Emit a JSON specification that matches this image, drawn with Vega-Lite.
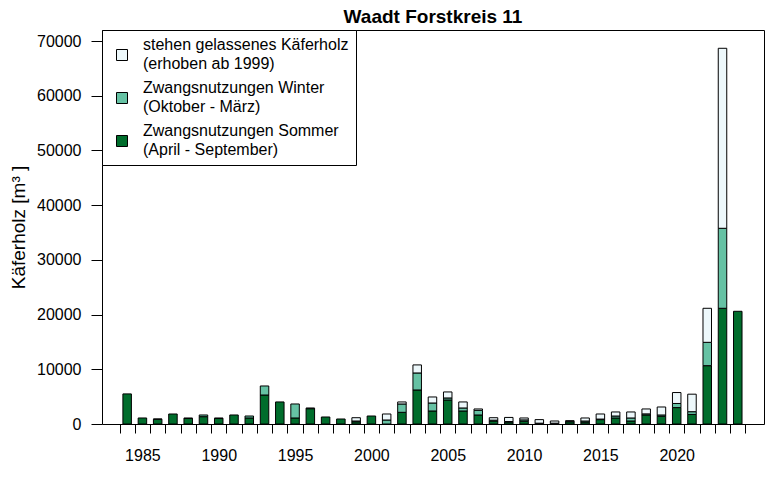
{
  "$schema": "https://vega.github.io/schema/vega-lite/v6.json",
  "width": 662,
  "height": 394,
  "autosize": "none",
  "padding": {"left": 102, "top": 30, "right": 4, "bottom": 60},
  "background": "white",
  "title": {"text": "Waadt Forstkreis 11", "font": "Liberation Sans", "fontSize": 19, "fontWeight": "bold", "color": "black", "anchor": "middle", "offset": 3},
  "config": {"view": {"stroke": "black", "strokeWidth": 1}},
  "data": {"values": [
    {"jahr":1984,"typ":"sommer","k":1,"m3":5500},
    {"jahr":1985,"typ":"sommer","k":1,"m3":1100},
    {"jahr":1986,"typ":"sommer","k":1,"m3":850},{"jahr":1986,"typ":"winter","k":2,"m3":80},
    {"jahr":1987,"typ":"sommer","k":1,"m3":1830},
    {"jahr":1988,"typ":"sommer","k":1,"m3":1000},{"jahr":1988,"typ":"winter","k":2,"m3":100},
    {"jahr":1989,"typ":"sommer","k":1,"m3":1340},{"jahr":1989,"typ":"winter","k":2,"m3":310},
    {"jahr":1990,"typ":"sommer","k":1,"m3":1000},{"jahr":1990,"typ":"winter","k":2,"m3":100},
    {"jahr":1991,"typ":"sommer","k":1,"m3":1650},
    {"jahr":1992,"typ":"sommer","k":1,"m3":1100},{"jahr":1992,"typ":"winter","k":2,"m3":360},
    {"jahr":1993,"typ":"sommer","k":1,"m3":5300},{"jahr":1993,"typ":"winter","k":2,"m3":1650},
    {"jahr":1994,"typ":"sommer","k":1,"m3":4030},
    {"jahr":1995,"typ":"sommer","k":1,"m3":1100},{"jahr":1995,"typ":"winter","k":2,"m3":2560},
    {"jahr":1996,"typ":"sommer","k":1,"m3":2800},{"jahr":1996,"typ":"winter","k":2,"m3":130},
    {"jahr":1997,"typ":"sommer","k":1,"m3":1280},
    {"jahr":1998,"typ":"sommer","k":1,"m3":915},
    {"jahr":1999,"typ":"sommer","k":1,"m3":400},{"jahr":1999,"typ":"winter","k":2,"m3":150},{"jahr":1999,"typ":"stehen","k":3,"m3":600},
    {"jahr":2000,"typ":"sommer","k":1,"m3":1460},
    {"jahr":2001,"typ":"winter","k":2,"m3":730},{"jahr":2001,"typ":"stehen","k":3,"m3":1100},
    {"jahr":2002,"typ":"sommer","k":1,"m3":2135},{"jahr":2002,"typ":"winter","k":2,"m3":1525},{"jahr":2002,"typ":"stehen","k":3,"m3":370},
    {"jahr":2003,"typ":"sommer","k":1,"m3":6220},{"jahr":2003,"typ":"winter","k":2,"m3":3110},{"jahr":2003,"typ":"stehen","k":3,"m3":1470},
    {"jahr":2004,"typ":"sommer","k":1,"m3":2380},{"jahr":2004,"typ":"winter","k":2,"m3":1460},{"jahr":2004,"typ":"stehen","k":3,"m3":1100},
    {"jahr":2005,"typ":"sommer","k":1,"m3":4390},{"jahr":2005,"typ":"winter","k":2,"m3":370},{"jahr":2005,"typ":"stehen","k":3,"m3":1100},
    {"jahr":2006,"typ":"sommer","k":1,"m3":2380},{"jahr":2006,"typ":"winter","k":2,"m3":550},{"jahr":2006,"typ":"stehen","k":3,"m3":1100},
    {"jahr":2007,"typ":"sommer","k":1,"m3":1650},{"jahr":2007,"typ":"winter","k":2,"m3":850},{"jahr":2007,"typ":"stehen","k":3,"m3":250},
    {"jahr":2008,"typ":"sommer","k":1,"m3":550},{"jahr":2008,"typ":"winter","k":2,"m3":150},{"jahr":2008,"typ":"stehen","k":3,"m3":450},
    {"jahr":2009,"typ":"sommer","k":1,"m3":350},{"jahr":2009,"typ":"winter","k":2,"m3":100},{"jahr":2009,"typ":"stehen","k":3,"m3":750},
    {"jahr":2010,"typ":"sommer","k":1,"m3":500},{"jahr":2010,"typ":"winter","k":2,"m3":250},{"jahr":2010,"typ":"stehen","k":3,"m3":350},
    {"jahr":2011,"typ":"sommer","k":1,"m3":100},{"jahr":2011,"typ":"winter","k":2,"m3":50},{"jahr":2011,"typ":"stehen","k":3,"m3":650},
    {"jahr":2012,"typ":"sommer","k":1,"m3":100},{"jahr":2012,"typ":"winter","k":2,"m3":50},{"jahr":2012,"typ":"stehen","k":3,"m3":400},
    {"jahr":2013,"typ":"sommer","k":1,"m3":400},{"jahr":2013,"typ":"winter","k":2,"m3":100},{"jahr":2013,"typ":"stehen","k":3,"m3":100},
    {"jahr":2014,"typ":"sommer","k":1,"m3":350},{"jahr":2014,"typ":"winter","k":2,"m3":200},{"jahr":2014,"typ":"stehen","k":3,"m3":550},
    {"jahr":2015,"typ":"sommer","k":1,"m3":800},{"jahr":2015,"typ":"winter","k":2,"m3":100},{"jahr":2015,"typ":"stehen","k":3,"m3":930},
    {"jahr":2016,"typ":"sommer","k":1,"m3":1100},{"jahr":2016,"typ":"winter","k":2,"m3":360},{"jahr":2016,"typ":"stehen","k":3,"m3":740},
    {"jahr":2017,"typ":"sommer","k":1,"m3":550},{"jahr":2017,"typ":"winter","k":2,"m3":550},{"jahr":2017,"typ":"stehen","k":3,"m3":1100},
    {"jahr":2018,"typ":"sommer","k":1,"m3":1650},{"jahr":2018,"typ":"winter","k":2,"m3":200},{"jahr":2018,"typ":"stehen","k":3,"m3":900},
    {"jahr":2019,"typ":"sommer","k":1,"m3":1400},{"jahr":2019,"typ":"winter","k":2,"m3":250},{"jahr":2019,"typ":"stehen","k":3,"m3":1460},
    {"jahr":2020,"typ":"sommer","k":1,"m3":3000},{"jahr":2020,"typ":"winter","k":2,"m3":750},{"jahr":2020,"typ":"stehen","k":3,"m3":2000},
    {"jahr":2021,"typ":"sommer","k":1,"m3":1750},{"jahr":2021,"typ":"winter","k":2,"m3":500},{"jahr":2021,"typ":"stehen","k":3,"m3":3200},
    {"jahr":2022,"typ":"sommer","k":1,"m3":10660},{"jahr":2022,"typ":"winter","k":2,"m3":4270},{"jahr":2022,"typ":"stehen","k":3,"m3":6220},
    {"jahr":2023,"typ":"sommer","k":1,"m3":21150},{"jahr":2023,"typ":"winter","k":2,"m3":14620},{"jahr":2023,"typ":"stehen","k":3,"m3":32900},
    {"jahr":2024,"typ":"sommer","k":1,"m3":20600}
  ]},
  "mark": {"type": "bar", "width": 8.5, "stroke": "black", "strokeWidth": 1},
  "encoding": {
    "x": {
      "field": "jahr", "type": "quantitative",
      "scale": {"domain": [1982.68, 2025.39], "nice": false, "zero": false},
      "axis": {
        "title": null, "grid": false, "domain": false,
        "values": [1983.5,1984.5,1985,1985.5,1986.5,1987.5,1988.5,1989.5,1990,1990.5,1991.5,1992.5,1993.5,1994.5,1995,1995.5,1996.5,1997.5,1998.5,1999.5,2000,2000.5,2001.5,2002.5,2003.5,2004.5,2005,2005.5,2006.5,2007.5,2008.5,2009.5,2010,2010.5,2011.5,2012.5,2013.5,2014.5,2015,2015.5,2016.5,2017.5,2018.5,2019.5,2020,2020.5,2021.5,2022.5,2023.5,2024.5],
        "tickSize": 9, "tickColor": "black", "tickWidth": 1,
        "tickOpacity": {"condition": {"test": "datum.value % 1 === 0", "value": 0}, "value": 1},
        "labelExpr": "datum.value % 5 === 0 ? '' + datum.value : ''",
        "labelOverlap": false, "labelFlush": false, "labelBound": false,
        "labelPadding": 14, "labelFont": "Liberation Sans", "labelFontSize": 16, "labelColor": "black"
      }
    },
    "y": {
      "field": "m3", "type": "quantitative", "stack": "zero",
      "scale": {"domain": [0, 72014], "nice": false, "zero": true},
      "axis": {
        "title": "Käferholz [m³ ]", "titleFont": "Liberation Sans", "titleFontSize": 19, "titleFontWeight": "normal", "titleColor": "black", "titlePadding": 8,
        "values": [0,10000,20000,30000,40000,50000,60000,70000], "format": "d",
        "grid": false, "domain": false, "tickSize": 11, "tickColor": "black",
        "labelPadding": 10, "labelFont": "Liberation Sans", "labelFontSize": 16, "labelColor": "black"
      }
    },
    "order": {"field": "k", "type": "quantitative", "sort": "ascending"},
    "color": {
      "field": "typ", "type": "nominal",
      "scale": {"domain": ["stehen", "winter", "sommer"], "range": ["#edf8fb", "#66c2a4", "#006d2c"]},
      "legend": {
        "title": null, "orient": "top-left", "offset": 0, "padding": 7,
        "strokeColor": "black", "fillColor": "white", "cornerRadius": 0,
        "symbolType": "square", "symbolSize": 121, "symbolStrokeColor": "black", "symbolStrokeWidth": 1, "symbolOffset": 5,
        "labelOffset": 13, "labelFont": "Liberation Sans", "labelFontSize": 16, "labelColor": "black", "labelLimit": 0,
        "rowPadding": 8,
        "labelExpr": "datum.value == 'stehen' ? ['stehen gelassenes Käferholz', '(erhoben ab 1999)'] : datum.value == 'winter' ? ['Zwangsnutzungen Winter', '(Oktober - März)'] : ['Zwangsnutzungen Sommer', '(April - September)']",
        "encode": {"labels": {"update": {"lineHeight": {"value": 19}}}, "symbols": {"update": {"y": {"value": 18}}}}
      }
    }
  }
}
